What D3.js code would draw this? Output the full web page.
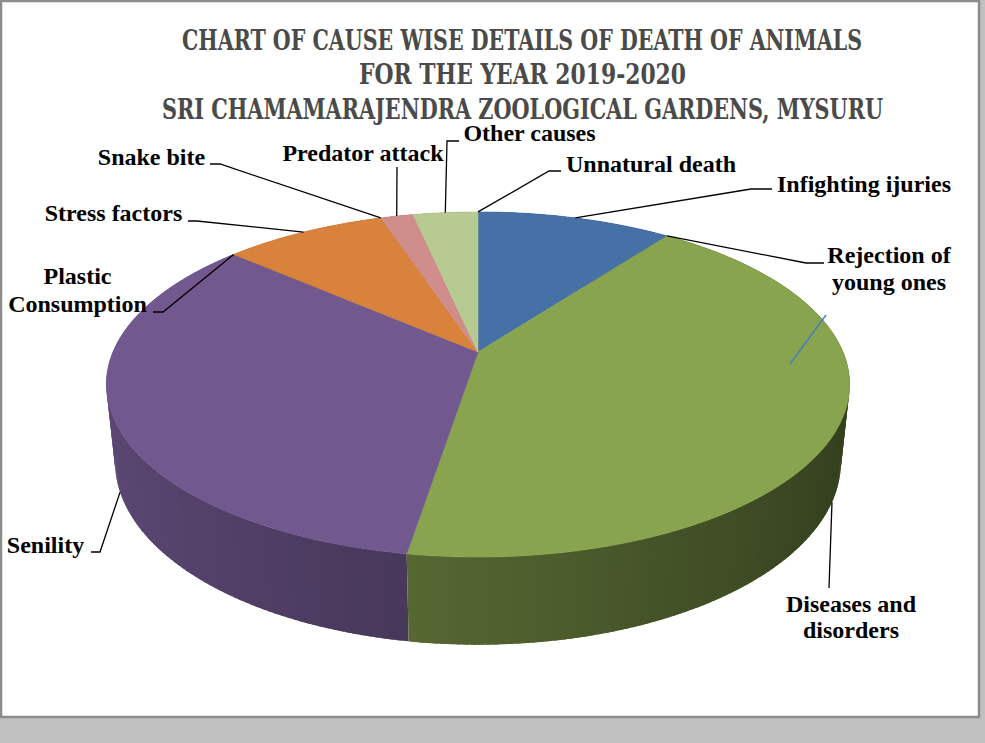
<!DOCTYPE html>
<html>
<head>
<meta charset="utf-8">
<script src="https://cdn.jsdelivr.net/npm/d3@7"></script>
<style>
html,body{margin:0;padding:0;background:#c0c0c0;}
svg{display:block;}
</style>
</head>
<body>
<svg id="chart" width="985" height="743"></svg>
<script>
// ---- data ----
const categories = ["Infighting ijuries","Rejection of young ones","Diseases and disorders","Senility","Plastic Consumption","Stress factors","Snake bite","Predator attack","Other causes","Unnatural death"];
const values = [6,0,25,20,0,5,0,1,2,0];
const sliceColors = ["#4671a6","#b4514e","#88a44f","#71588e","#46a0b8","#d8823c","#7b9ccc","#cf8e8c","#b7ca92","#a696c0"];
const titleLines = ["CHART OF CAUSE WISE DETAILS OF DEATH OF ANIMALS","FOR THE YEAR 2019-2020","SRI CHAMAMARAJENDRA ZOOLOGICAL GARDENS, MYSURU"];

// ---- layout ----
const W = 985, H = 743;
const svg = d3.select("#chart");
svg.append("rect").attr("x",0).attr("y",0).attr("width",W).attr("height",H).attr("fill","#c0c0c0");
svg.append("rect").attr("x",1).attr("y",1).attr("width",978).attr("height",716)
  .attr("fill","#ffffff").attr("stroke","#8c8c8c").attr("stroke-width",2.5);

// title
const titleLayout = [{x:182,y:50,len:680},{x:359,y:84,len:327},{x:162,y:119,len:721}];
svg.append("g").selectAll("text").data(titleLines).join("text")
  .attr("x",(d,i)=>titleLayout[i].x).attr("y",(d,i)=>titleLayout[i].y)
  .attr("textLength",(d,i)=>titleLayout[i].len).attr("lengthAdjust","spacingAndGlyphs")
  .attr("font-family","'DejaVu Serif Condensed','DejaVu Serif',serif").attr("font-weight","bold")
  .attr("font-size",28).attr("fill","#4a4a4a").text(d=>d);

// 3D projection of the pie
const P = {cx:478, cy:352, S:365, sph:0.456, D:4.73, T:0.24};
P.cph = Math.sqrt(1-P.sph*P.sph);
function proj(theta, level){
  const x = Math.sin(theta), z = -Math.cos(theta), y = level;
  const up = y*P.cph - z*P.sph;
  const d = z*P.cph + y*P.sph;
  const k = P.D/(P.D-d);
  return [P.cx + P.S*x*k, P.cy - P.S*up*k];
}

const pie = d3.pie().sort(null).value(d=>d);
const arcs = pie(values).map((a,i)=>({...a, name:categories[i], color:sliceColors[i]}));

function shade(col, f){
  const c = d3.rgb(col);
  return d3.rgb(c.r*f, c.g*f, c.b*f).formatHex();
}

// sides (drawn as thin overlapping bands, back to front)
const sideSegs = [];
const step = Math.PI/180;
arcs.forEach(a=>{
  if (a.endAngle - a.startAngle <= 0) return;
  const n = Math.max(1, Math.ceil((a.endAngle-a.startAngle)/step));
  const w = (a.endAngle-a.startAngle)/n;
  for (let j=0;j<n;j++){
    const t1 = a.startAngle + w*j;
    const t2 = Math.min(a.endAngle, t1 + w*1.8);
    const m = t1 + w/2;
    sideSegs.push({t1,t2,m,color:a.color});
  }
});
sideSegs.sort((p,q)=>Math.cos(q.m)-Math.cos(p.m));
const gSide = svg.append("g");
gSide.selectAll("path").data(sideSegs).join("path")
  .attr("d",s=>{
    const p = [proj(s.t1,0),proj(s.t2,0),proj(s.t2,-P.T),proj(s.t1,-P.T)];
    return "M"+p.map(q=>q.join(",")).join("L")+"Z";
  })
  .attr("fill",s=>shade(s.color, 0.6 - 0.22*Math.sin(s.m)));

// tops
const gTop = svg.append("g");
gTop.selectAll("path").data(arcs.filter(a=>a.endAngle>a.startAngle)).join("path")
  .attr("d",a=>{
    const n = Math.max(2, Math.ceil((a.endAngle-a.startAngle)/(step/2)));
    const pts = [[P.cx,P.cy]];
    for (let j=0;j<=n;j++) pts.push(proj(a.startAngle+(a.endAngle-a.startAngle)*j/n,0));
    return "M"+pts.map(q=>q.join(",")).join("L")+"Z";
  })
  .attr("fill",a=>a.color).attr("stroke",a=>a.color).attr("stroke-width",0.6);

// stray blue line inside green slice (as in reference)
svg.append("line").attr("x1",790).attr("y1",364).attr("x2",826).attr("y2",315)
  .attr("stroke","#4a7ebb").attr("stroke-width",1.5);

// labels
const labelLayout = {
  "Infighting ijuries":{cx:864, ys:[192], pts:[[751,189],[772,189]]},
  "Rejection of young ones":{cx:889, ys:[263,290], lines:["Rejection of","young ones"], pts:[[806,263],[824,263]]},
  "Diseases and disorders":{cx:851, ys:[612,638], lines:["Diseases and","disorders"], pts:[[829,588]]},
  "Senility":{cx:45.5, ys:[553], pts:[[100,552],[91,552]]},
  "Plastic Consumption":{cx:77.5, ys:[284,312], lines:["Plastic","Consumption"], pts:[[163,312],[153,312]]},
  "Stress factors":{cx:113.5, ys:[221], pts:[[197,221],[188,221]]},
  "Snake bite":{cx:151.5, ys:[165], pts:[[220,164],[210,164]]},
  "Predator attack":{cx:363, ys:[161], pts:[[397,167]]},
  "Other causes":{cx:529.5, ys:[141], pts:[[447,141],[459,141]]},
  "Unnatural death":{cx:651, ys:[172], pts:[[549,171],[561,171]]}
};
const gLab = svg.append("g");
arcs.forEach(a=>{
  const L = labelLayout[a.name];
  const mid = (a.startAngle+a.endAngle)/2;
  const level = Math.cos(mid) < -0.2 ? -P.T : 0;
  const anchor = proj(mid, level);
  const pts = [anchor, ...L.pts];
  gLab.append("path").attr("d", d3.line()(pts)).attr("fill","none")
    .attr("stroke","#000").attr("stroke-width",1.3);
  const lines = L.lines || [a.name];
  lines.forEach((t,i)=>{
    gLab.append("text").attr("x",L.cx).attr("y",L.ys[i]).attr("text-anchor","middle")
      .attr("font-family","'Liberation Serif','Times New Roman',serif").attr("font-weight","bold")
      .attr("font-size",24).attr("fill","#000").text(t);
  });
});
</script>
</body>
</html>
